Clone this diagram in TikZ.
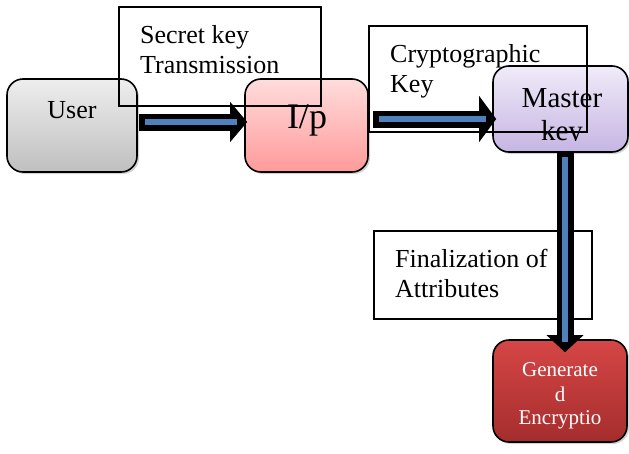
\documentclass[tikz,border=0pt]{standalone}
\usepackage{fontspec}
\setmainfont{Liberation Serif}
\usetikzlibrary{arrows.meta, shadows}

\definecolor{arrowblue}{HTML}{4F81BD}
\definecolor{usertop}{HTML}{EEEEEE}
\definecolor{userbot}{HTML}{BFBFBF}
\definecolor{iptop}{HTML}{FFDCDC}
\definecolor{ipbot}{HTML}{FF9A9A}
\definecolor{mastertop}{HTML}{F0EBF9}
\definecolor{masterbot}{HTML}{C6B5E3}
\definecolor{gentop}{HTML}{D64646}
\definecolor{genbot}{HTML}{A52D2D}

\tikzset{
    stage/.style = {draw, line width = 1.6pt, rounded corners = 16pt, drop shadow = {shadow xshift = 2pt, shadow yshift = -2pt, opacity = 0.35}},
    note/.style = {draw, line width = 1.2pt},
    txt/.style = {inner sep = 0pt, anchor = base west, font = \fontsize{26}{30}\selectfont},
    flow/.style = {line width = 17pt, -{Triangle[length = 17pt, width = #1, line width = 0pt]}},
    flow/.default = 42pt,
    flowcore/.style = {line width = 6pt, draw = arrowblue, shorten <= 6pt, shorten >= 10pt},
}

\begin{document}
\begin{tikzpicture}[x = 1pt, y = -1pt]
    \useasboundingbox (0, 0) rectangle (629, 453);

    % stages
    \node[stage, top color = usertop, bottom color = userbot, minimum width = 130pt, minimum height = 93pt] (user) at (72, 125.5){};
    \node[stage, top color = iptop, bottom color = ipbot, minimum width = 123pt, minimum height = 93pt] (ip) at (306.5, 125.5){};
    \node[stage, top color = mastertop, bottom color = masterbot, minimum width = 135pt, minimum height = 86pt] (master) at (560.5, 109){};
    \node[stage, top color = gentop, bottom color = genbot, minimum width = 134pt, minimum height = 102pt] (gen) at (560, 391){};

    \node[inner sep = 0pt, anchor = base, font = \fontsize{26}{30}\selectfont] (usertxt) at (72, 118){User};
    \node[inner sep = 0pt, anchor = base, font = \fontsize{36}{40}\selectfont] (iptxt) at (307, 128){I/p};
    \node[inner sep = 0pt, anchor = base, font = \fontsize{29}{33}\selectfont] (mastertxt) at (562, 107){Master};
    \begin{scope}
        \clip (master.north west) rectangle (master.east |- 0, 140.5);
        \node[inner sep = 0pt, anchor = base, font = \fontsize{29}{33}\selectfont] (keytxt) at (562, 140){key};
    \end{scope}
    \foreach \line/\y/\nm in {Generate/376/gena, d/401/genb, Encryptio/424/genc}
        \node[inner sep = 0pt, anchor = base, text = white, font = \fontsize{21}{24}\selectfont] (\nm) at (560, \y){\line};

    % notes
    \node[note, minimum width = 202pt, minimum height = 99pt] (secret) at (220, 56.5){};
    \node[txt] (secreta) at (140, 43){Secret key};
    \node[txt] (secretb) at (140, 73){Transmission};

    \node[note, minimum width = 218pt, minimum height = 106pt] (crypto) at (478, 79){};
    \node[txt] (cryptoa) at (390, 62){Cryptographic};
    \node[txt] (cryptob) at (390, 92){Key};

    \node[note, minimum width = 218pt, minimum height = 88pt] (final) at (483, 275){};
    \node[txt] (finala) at (395, 267){Finalization of};
    \node[txt] (finalb) at (395, 297){Attributes};

    % arrows
    \draw[flow = 40pt] ([xshift = 1pt, yshift = 3.5pt]user.east) -- ([xshift = 3pt, yshift = 3.5pt]ip.west);
    \draw[flowcore] ([xshift = 1pt, yshift = 3.5pt]user.east) -- ([xshift = 3pt, yshift = 3.5pt]ip.west);
    \draw[flow = 46pt] ([xshift = 4pt, yshift = 6.5pt]ip.east) -- ([xshift = 4pt, yshift = -10pt]master.west);
    \draw[flowcore] ([xshift = 4pt, yshift = 6.5pt]ip.east) -- ([xshift = 4pt, yshift = -10pt]master.west);
    \draw[flow = 37pt] ([xshift = 4.5pt, yshift = 2pt]master.south) -- ([xshift = 5pt, yshift = -13pt]gen.north);
    \draw[flowcore] ([xshift = 4.5pt, yshift = 2pt]master.south) -- ([xshift = 5pt, yshift = -13pt]gen.north);
\end{tikzpicture}
\end{document}
